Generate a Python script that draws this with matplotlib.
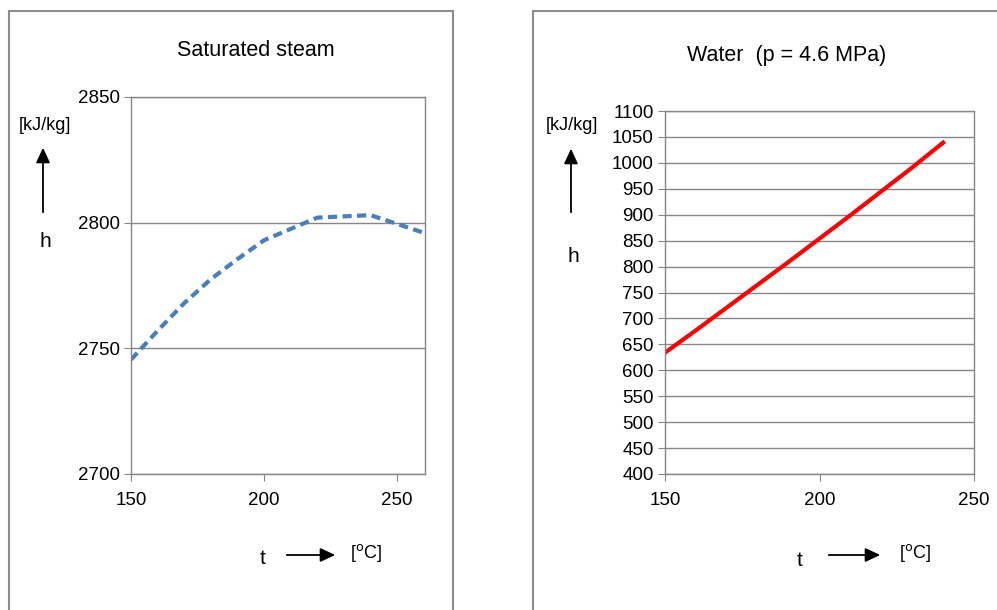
import matplotlib.pyplot as plt
from matplotlib.patches import Rectangle, FancyArrowPatch

plt.rcParams['font.family'] = ['Liberation Sans', 'DejaVu Sans']

# saturated steam enthalpy [kJ/kg] vs temperature [C]
steam_t = [150, 160, 170, 180, 190, 200, 220, 240, 260]
steam_h = [2745.5, 2757, 2768, 2777.5, 2785.5, 2793, 2802, 2803, 2796]

# compressed water at 4.6 MPa
water_t = [150, 160, 170, 180, 190, 200, 210, 220, 230, 240]
water_h = [634, 677, 721, 765, 809, 854, 899, 945, 991, 1039]

steam_yticks = [2700, 2750, 2800, 2850]
water_yticks = list(range(400, 1101, 50))
xticks = [150, 200, 250]

W, H = 997, 610
GRID = '#868686'


def fx(x):
    return x / W


def fy(y):
    return 1 - y / H


fig = plt.figure(figsize=(W / 100, H / 100), dpi=100)

# chart frames
for x0, x1 in [(9, 453), (533, 1010)]:
    fig.patches.append(Rectangle((fx(x0), fy(640)), fx(x1 - x0), (640 - 11) / H,
                                 transform=fig.transFigure, fill=False,
                                 edgecolor='#8c8c8c', lw=1.5))


def style(ax, ylim, yticks, xlim):
    ax.set_xlim(*xlim)
    ax.set_ylim(*ylim)
    ax.set_yticks(yticks)
    ax.set_xticks(xticks)
    ax.yaxis.grid(True, color=GRID, lw=1)
    ax.set_axisbelow(True)
    for s in ax.spines.values():
        s.set_color(GRID)
        s.set_linewidth(1)
    ax.tick_params(axis='both', colors=GRID, labelcolor='black', labelsize=13.5,
                   length=5, direction='out')
    ax.tick_params(axis='x', pad=8)
    ax.tick_params(axis='y', pad=3)


# left: saturated steam
ax1 = fig.add_axes([fx(131), fy(474), fx(425 - 131), (474 - 97) / H])
ax1.plot(steam_t, steam_h, color='#4a7ebb', lw=3, ls=(0, (2.2, 1.3)))
style(ax1, (2700, 2850), steam_yticks, (150, 260.5))

# right: water
ax2 = fig.add_axes([fx(665), fy(474), fx(974 - 665), (474 - 111) / H])
ax2.plot(water_t, water_h, color='#ff0000', lw=3)
style(ax2, (400, 1100), water_yticks, (150, 250))

fig.text(fx(256), fy(50), 'Saturated steam', ha='center', va='center',
         fontsize=15.5)
fig.text(fx(787), fy(55), 'Water  (p = 4.6 MPa)', ha='center', va='center',
         fontsize=15.5)

arrow = dict(arrowstyle='-|>,head_length=0.6,head_width=0.28', color='black',
             lw=1.3, mutation_scale=15)

for kx, ky, ax_, ay0, ay1, hx, hy in [(45, 125, 43, 215, 145, 45, 242),
                                      (572, 125, 571, 215, 146, 573, 256)]:
    fig.text(fx(kx), fy(ky), '[kJ/kg]', ha='center', va='center', fontsize=13)
    fig.text(fx(hx), fy(hy), 'h', ha='center', va='center', fontsize=15)
    fig.patches.append(FancyArrowPatch(
        (fx(ax_), fy(ay0)), (fx(ax_), fy(ay1)), transform=fig.transFigure, **arrow))

for tx, ty, a0, a1, ux, uy in [(263, 558, 284, 338, 366, 553),
                               (800, 561, 826, 883, 915, 553)]:
    fig.text(fx(tx), fy(ty), 't', ha='center', va='center', fontsize=15)
    fig.text(fx(ux), fy(uy), '[$^{\\mathrm{o}}$C]', ha='center', va='center', fontsize=13)
    fig.patches.append(FancyArrowPatch(
        (fx(a0), fy(555)), (fx(a1), fy(555)), transform=fig.transFigure, **arrow))

fig.savefig('out.png', dpi=100)
